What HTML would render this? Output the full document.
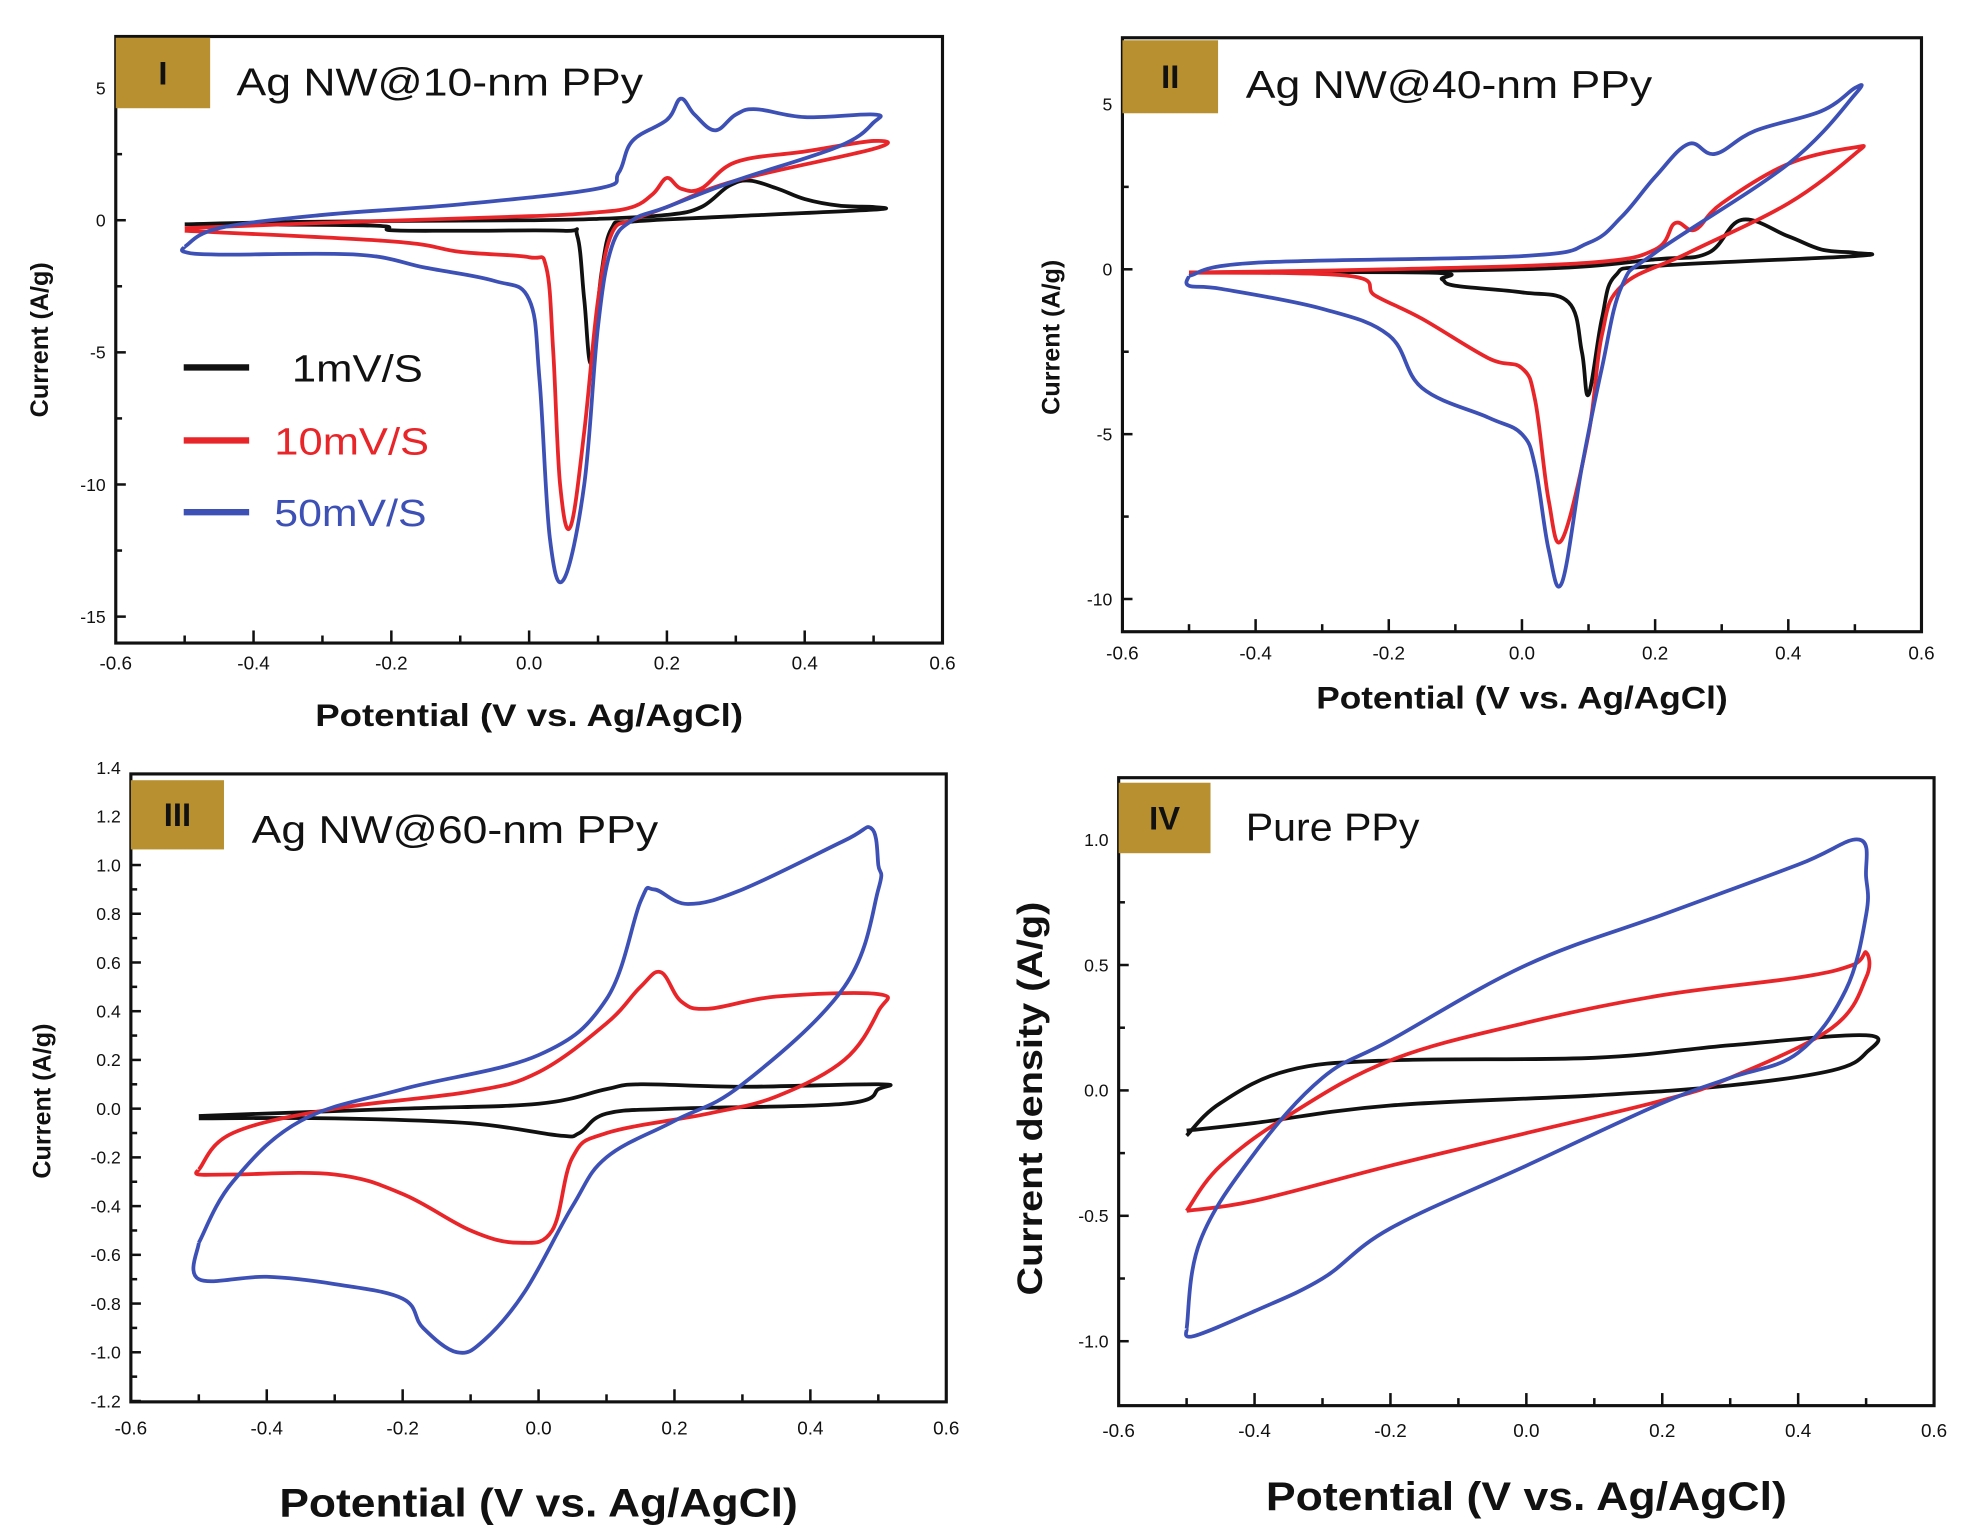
<!DOCTYPE html>
<html><head><meta charset="utf-8"><style>
html,body{margin:0;padding:0;background:#fff;}
svg{display:block;}
text{font-family:"Liberation Sans",sans-serif;}
</style></head><body>
<svg id="fig" width="1963" height="1534" viewBox="0 0 1560 1219" preserveAspectRatio="none" xmlns="http://www.w3.org/2000/svg"></svg>
<script>
// ---------- data ----------
const xTicks = [-0.6,-0.4,-0.2,0.0,0.2,0.4,0.6];
const xTickLabels = ["-0.6","-0.4","-0.2","0.0","0.2","0.4","0.6"];
const yTicksI = [5,0,-5,-10,-15];
const yTicksII = [5,0,-5,-10];
const yTicksIII = [1.4,1.2,1.0,0.8,0.6,0.4,0.2,0.0,-0.2,-0.4,-0.6,-0.8,-1.0,-1.2];
const yTicksIV = [1.0,0.5,0.0,-0.5,-1.0];
const seriesNames = ["1mV/S","10mV/S","50mV/S"];
const seriesColors = ["#111111","#e8262a","#3d50b5"];

const I_black = [[-0.5,-0.15],[-0.3,-0.05],[0,0],[0.1,0.05],[0.2,0.2],[0.25,0.5],[0.29,1.3],[0.32,1.5],[0.36,1.2],[0.4,0.8],[0.45,0.55],[0.5,0.5],[0.5,0.4],[0.3,0.15],[0.15,-0.05],[0.12,-0.3],[0.105,-2],[0.09,-5.4],[0.08,-3],[0.07,-0.6],[0.05,-0.4],[-0.1,-0.4],[-0.2,-0.38],[-0.23,-0.2],[-0.5,-0.15]];
const I_red = [[-0.5,-0.3],[-0.3,-0.1],[0,0.15],[0.1,0.3],[0.15,0.5],[0.18,1.0],[0.2,1.6],[0.22,1.2],[0.25,1.2],[0.3,2.2],[0.4,2.6],[0.5,3.0],[0.5,2.7],[0.3,1.5],[0.2,0.5],[0.15,0],[0.12,-0.5],[0.1,-3],[0.08,-8],[0.06,-11.6],[0.045,-10],[0.035,-5],[0.025,-1.8],[0,-1.4],[-0.1,-1.2],[-0.2,-0.8],[-0.5,-0.4]];
const I_blue = [[-0.5,-1.0],[-0.45,-0.3],[-0.3,0.2],[-0.1,0.6],[0.1,1.2],[0.13,1.8],[0.15,3.0],[0.2,3.8],[0.22,4.6],[0.24,4.0],[0.27,3.4],[0.3,4.0],[0.33,4.2],[0.4,3.9],[0.5,4.0],[0.5,3.7],[0.45,2.8],[0.3,1.5],[0.2,0.5],[0.15,0],[0.12,-1],[0.1,-4],[0.08,-10],[0.05,-13.6],[0.03,-12],[0.015,-6],[0,-3],[-0.05,-2.3],[-0.15,-1.8],[-0.25,-1.3],[-0.45,-1.3],[-0.5,-1.2],[-0.5,-1.0]];

const II_black = [[-0.5,-0.1],[0,0],[0.2,0.3],[0.28,0.5],[0.33,1.5],[0.4,1.0],[0.45,0.6],[0.5,0.5],[0.5,0.4],[0.2,0.1],[0.14,-0.2],[0.12,-1.5],[0.1,-3.8],[0.09,-2.5],[0.07,-1],[0.0,-0.7],[-0.1,-0.5],[-0.12,-0.3],[-0.14,-0.1],[-0.5,-0.1]];
const II_red = [[-0.5,-0.1],[-0.2,0],[0.1,0.2],[0.2,0.6],[0.23,1.4],[0.26,1.2],[0.3,2.0],[0.4,3.2],[0.5,3.7],[0.5,3.5],[0.4,2.0],[0.25,0.5],[0.15,-0.5],[0.12,-2],[0.1,-5],[0.06,-8.2],[0.04,-7],[0.02,-4],[0,-3],[-0.05,-2.7],[-0.15,-1.5],[-0.22,-0.8],[-0.26,-0.2],[-0.5,-0.1]];
const II_blue = [[-0.5,-0.2],[-0.4,0.2],[0,0.4],[0.1,0.8],[0.15,1.6],[0.2,2.8],[0.25,3.8],[0.29,3.5],[0.35,4.2],[0.45,4.8],[0.5,5.5],[0.5,5.3],[0.4,3.2],[0.2,0.5],[0.15,-0.5],[0.12,-3],[0.09,-6],[0.06,-9.5],[0.04,-8.5],[0.02,-6],[0,-5],[-0.05,-4.5],[-0.15,-3.6],[-0.2,-2],[-0.3,-1.2],[-0.45,-0.6],[-0.5,-0.5],[-0.5,-0.2]];

const III_black = [[-0.5,-0.03],[-0.2,0],[0,0.02],[0.1,0.08],[0.15,0.1],[0.3,0.09],[0.5,0.1],[0.5,0.08],[0.45,0.02],[0.2,0],[0.1,-0.02],[0.06,-0.1],[0.03,-0.11],[-0.1,-0.06],[-0.3,-0.04],[-0.5,-0.04]];
const III_red = [[-0.5,-0.25],[-0.45,-0.1],[-0.3,0],[-0.1,0.07],[0,0.15],[0.1,0.35],[0.15,0.5],[0.18,0.56],[0.21,0.44],[0.25,0.41],[0.35,0.46],[0.5,0.47],[0.5,0.4],[0.45,0.2],[0.35,0.05],[0.25,-0.02],[0.1,-0.1],[0.05,-0.2],[0.02,-0.5],[-0.03,-0.55],[-0.1,-0.5],[-0.2,-0.35],[-0.3,-0.27],[-0.45,-0.27],[-0.5,-0.27],[-0.5,-0.25]];
const III_blue = [[-0.5,-0.55],[-0.45,-0.3],[-0.35,-0.05],[-0.2,0.08],[0,0.22],[0.1,0.45],[0.15,0.85],[0.17,0.9],[0.22,0.84],[0.3,0.9],[0.45,1.1],[0.49,1.15],[0.5,1.0],[0.5,0.9],[0.45,0.5],[0.3,0.1],[0.2,-0.05],[0.1,-0.2],[0.05,-0.4],[-0.02,-0.75],[-0.08,-0.95],[-0.12,-1.0],[-0.17,-0.9],[-0.2,-0.78],[-0.3,-0.72],[-0.4,-0.69],[-0.5,-0.7],[-0.5,-0.55]];

const IV_black = [[-0.5,-0.18],[-0.45,-0.05],[-0.35,0.08],[-0.2,0.12],[0.1,0.13],[0.3,0.18],[0.5,0.22],[0.5,0.15],[0.45,0.08],[0.3,0.02],[0.1,-0.02],[-0.2,-0.06],[-0.4,-0.13],[-0.5,-0.16]];
const IV_red = [[-0.5,-0.48],[-0.45,-0.3],[-0.35,-0.1],[-0.2,0.12],[0,0.27],[0.2,0.38],[0.4,0.45],[0.48,0.5],[0.5,0.55],[0.5,0.45],[0.45,0.25],[0.3,0.05],[0.2,-0.04],[0,-0.17],[-0.2,-0.3],[-0.4,-0.44],[-0.5,-0.48]];
const IV_blue = [[-0.5,-0.95],[-0.48,-0.6],[-0.4,-0.25],[-0.3,0.05],[-0.2,0.2],[0,0.5],[0.2,0.7],[0.4,0.9],[0.49,1.0],[0.5,0.85],[0.5,0.7],[0.47,0.4],[0.4,0.15],[0.3,0.05],[0.2,-0.05],[0,-0.3],[-0.2,-0.55],[-0.3,-0.75],[-0.4,-0.88],[-0.49,-0.98],[-0.5,-0.95]];

// ---------- drawing ----------
const NS="http://www.w3.org/2000/svg";
const svg=document.getElementById('fig');
function mk(tag,attrs,parent){const e=document.createElementNS(NS,tag);for(const k in attrs)e.setAttribute(k,attrs[k]);(parent||svg).appendChild(e);return e;}
function smooth(pts){
  let d='M'+pts[0][0].toFixed(1)+' '+pts[0][1].toFixed(1);
  const t=0.18;
  for(let i=0;i<pts.length-1;i++){
    const p0=pts[Math.max(0,i-1)],p1=pts[i],p2=pts[i+1],p3=pts[Math.min(pts.length-1,i+2)];
    const c1=[p1[0]+(p2[0]-p0[0])*t,p1[1]+(p2[1]-p0[1])*t];
    const c2=[p2[0]-(p3[0]-p1[0])*t,p2[1]-(p3[1]-p1[1])*t];
    d+=' C'+c1.map(v=>v.toFixed(1)).join(' ')+' '+c2.map(v=>v.toFixed(1)).join(' ')+' '+p2[0].toFixed(1)+' '+p2[1].toFixed(1);
  }
  return d;
}

const panels=[
 {id:"i",roman:"I",title:"Ag NW@10-nm PPy",tlen:323,x0:92,x1:749,top:29,bot:511,yv0:0,yp0:175,yv1:-10,yp1:385,yticks:yTicksI,ylabels:yTicksI.map(v=>String(v)),minorY:2.5,
  ylab:"Current (A/g)",ylx:38,yly:270,ylsize:20,yllen:null,xlY:532,xtY:577,xtSize:25,xtLen:340,box:[92,30,75,56],tx:188,ty:76,tsize:31,
  data:[I_black,I_red,I_blue],legend:true},
 {id:"ii",roman:"II",title:"Ag NW@40-nm PPy",tlen:323,x0:892,x1:1527,top:30,bot:502,yv0:0,yp0:214,yv1:-10,yp1:476,yticks:yTicksII,ylabels:yTicksII.map(v=>String(v)),minorY:2.5,
  ylab:"Current (A/g)",ylx:842,yly:268,ylsize:20,yllen:null,xlY:524,xtY:563,xtSize:25,xtLen:327,box:[892,32,76,58],tx:990,ty:78,tsize:31,
  data:[II_black,II_red,II_blue]},
 {id:"iii",roman:"III",title:"Ag NW@60-nm PPy",tlen:323,x0:104,x1:752,top:615,bot:1114,yv0:0,yp0:881,yv1:-1,yp1:1074.6,yticks:yTicksIII,ylabels:yTicksIII.map(v=>v.toFixed(1)),minorY:0.1,
  ylab:"Current (A/g)",ylx:40,yly:875,ylsize:20,yllen:null,xlY:1140,xtY:1205,xtSize:32,xtLen:412,box:[104,620,74,55],tx:200,ty:670,tsize:31,
  data:[III_black,III_red,III_blue]},
 {id:"iv",roman:"IV",title:"Pure PPy",tlen:138,x0:889,x1:1537,top:618,bot:1117,yv0:0,yp0:866.5,yv1:-1,yp1:1065.8,yticks:yTicksIV,ylabels:yTicksIV.map(v=>v.toFixed(1)),minorY:0.25,
  ylab:"Current density (A/g)",ylx:828,yly:873,ylsize:28,yllen:313,xlY:1142,xtY:1200,xtSize:32,xtLen:414,box:[889,622,73,56],tx:990,ty:668,tsize:31,
  data:[IV_black,IV_red,IV_blue]}
];

panels.forEach(p=>{
 const g=mk('g',{});
 
 
 const sx=v=>p.x0+(v+0.6)/1.2*(p.x1-p.x0);
 const sy=v=>p.yp0+(v-p.yv0)*(p.yp1-p.yp0)/(p.yv1-p.yv0);
 const frame=mk('rect',{x:p.x0,y:p.top,width:p.x1-p.x0,height:p.bot-p.top,fill:'none',stroke:'#111','stroke-width':2.5},g);
 
 
 for(let v=-0.5;v<=0.51;v+=0.1){
   const major=Math.abs(Math.round(v*10))%2===0;
   mk('line',{x1:sx(v),x2:sx(v),y1:p.bot,y2:p.bot-(major?10:6),stroke:'#111','stroke-width':2},g);
 }
 xTicks.forEach((v,i)=>{
   const t=mk('text',{x:sx(v),y:p.xlY,'font-size':15,'text-anchor':'middle',fill:'#111'},g);
   t.textContent=xTickLabels[i];
   
   
 });
 const ymin=Math.min(...p.yticks),ymax=Math.max(...p.yticks);
 for(let v=ymin;v<=ymax+1e-9;v+=p.minorY){
   const yy=sy(v); if(yy<p.top||yy>p.bot)continue;
   const major=p.yticks.some(t=>Math.abs(t-v)<1e-6);
   mk('line',{x1:p.x0,x2:p.x0+(major?8:5),y1:yy,y2:yy,stroke:'#111','stroke-width':2},g);
 }
 p.yticks.forEach((v,i)=>{
   const t=mk('text',{x:p.x0-8,y:sy(v)+5,'font-size':14,'text-anchor':'end',fill:'#111'},g);
   t.textContent=p.ylabels[i];
   
   
 });
 const xt=mk('text',{x:(p.x0+p.x1)/2,y:p.xtY,'font-size':p.xtSize,'font-weight':'bold','text-anchor':'middle',fill:'#111',textLength:p.xtLen,lengthAdjust:'spacingAndGlyphs'},g);
 xt.textContent="Potential (V vs. Ag/AgCl)";
 
 
 const ya={x:p.ylx,y:p.yly,'font-size':p.ylsize,'font-weight':'bold','text-anchor':'middle',fill:'#111',transform:`rotate(-90 ${p.ylx} ${p.yly})`};
 if(p.yllen){ya.textLength=p.yllen;ya.lengthAdjust='spacingAndGlyphs';}
 const yt=mk('text',ya,g);
 yt.textContent=p.ylab;
 
 
 p.data.forEach((arr,k)=>{
   const d=smooth(arr.map(pt=>[sx(pt[0]),sy(pt[1])]));
   const path=mk('path',{d:d,fill:'none',stroke:seriesColors[k],'stroke-width':3,'stroke-linejoin':'round'},g);
   
   
 });
 const b=mk('rect',{x:p.box[0],y:p.box[1],width:p.box[2],height:p.box[3],fill:'#b8902f'},g);
 
 
 const r=mk('text',{x:p.box[0]+p.box[2]/2,y:p.box[1]+p.box[3]/2+9,'font-size':26,'font-weight':'bold','text-anchor':'middle',fill:'#111','font-family':'Liberation Serif, serif'},g);
 r.textContent=p.roman;
 
 
 const tt=mk('text',{x:p.tx,y:p.ty,'font-size':p.tsize,fill:'#111','font-family':'DejaVu Sans, sans-serif',textLength:p.tlen,lengthAdjust:'spacingAndGlyphs'},g);
 tt.textContent=p.title;
 
 
 if(p.legend){
   const ly=[292,350,407], lx=[232,218,218], ll=[104,123,121];
   seriesNames.forEach((n,k)=>{
     const lg=mk('g',{},g);
     
     
     mk('line',{x1:146,x2:198,y1:ly[k],y2:ly[k],stroke:seriesColors[k],'stroke-width':5},lg);
     const lt=mk('text',{x:lx[k],y:ly[k]+11,'font-size':30,fill:k===0?'#111':seriesColors[k],'font-family':'DejaVu Sans, sans-serif',textLength:ll[k],lengthAdjust:'spacingAndGlyphs'},lg);
     lt.textContent=n;
   });
 }
});
</script>
</body></html>
